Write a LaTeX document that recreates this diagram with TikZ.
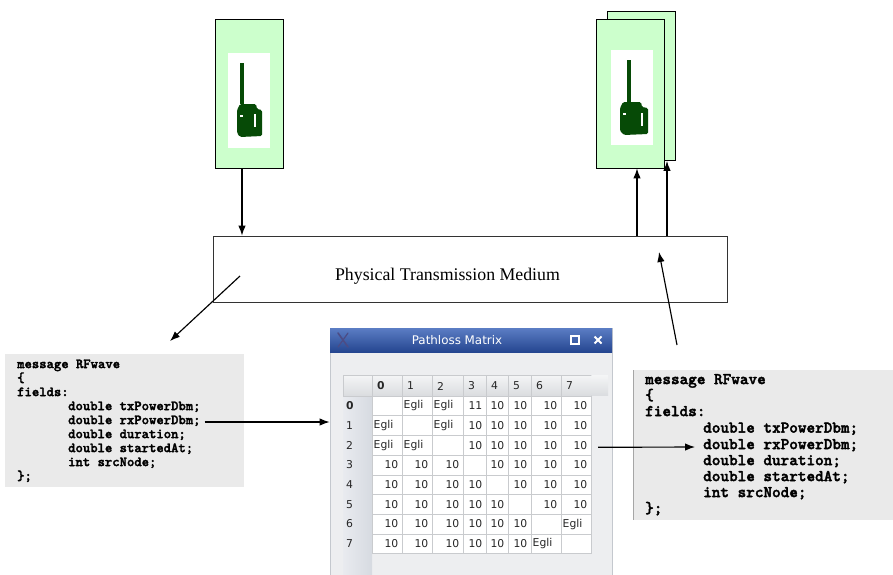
\documentclass[tikz,border=0pt]{standalone}
\usepackage{fontspec}
\setmainfont{Liberation Serif}
\newfontfamily\codefont{lmmonolt10-bold.otf}[FakeBold=2.2]
\newfontfamily\uifont{DejaVu Sans}
\usetikzlibrary{arrows.meta}

\definecolor{nodegreen}{HTML}{CCFFCC}
\definecolor{antgreen}{HTML}{064A06}
\definecolor{codegray}{HTML}{EAEAEA}
\definecolor{bartop}{HTML}{5B7DC4}
\definecolor{barbot}{HTML}{254690}
\definecolor{winbody}{HTML}{EDEEF0}
\definecolor{winedge}{HTML}{C4C8CE}
\definecolor{gridline}{HTML}{C9CBCE}
\definecolor{hdrtop}{HTML}{F4F5F6}
\definecolor{hdrbot}{HTML}{DADCDF}
\definecolor{rowhdrL}{HTML}{E9EBEF}
\definecolor{rowhdrR}{HTML}{D6DAE1}

\tikzset{
  arr/.style={draw=black, line width=1.15pt, -{Latex[length=10pt,width=7.5pt]}},
  radio/.style={draw=black, line width=0.8pt, fill=nodegreen, minimum width=68pt,
                minimum height=149pt, inner sep=0pt},
  panel/.style={fill=white, draw=none, inner sep=0pt},
  codeL/.style={font=\codefont\fontsize{14}{14}\selectfont, anchor=west,
                inner sep=0pt, text height=0.62em, text depth=0.2em},
  codeR/.style={font=\codefont\fontsize{16.4}{16}\selectfont, anchor=west,
                inner sep=0pt, text height=0.62em, text depth=0.2em},
  cellnum/.style={font=\uifont\fontsize{10.8}{12}\selectfont, anchor=east, inner sep=0pt,
                  text=black!85},
  celltxt/.style={font=\uifont\fontsize{10.8}{12}\selectfont, anchor=west, inner sep=0pt,
                  text=black!85},
  hdrtxt/.style={font=\uifont\fontsize{10.8}{12}\selectfont, anchor=west, inner sep=0pt,
                 text=black!85},
  bodycell/.style={fill=white, draw=gridline, line width=0.6pt},
  hdrcell/.style={top color=hdrtop, bottom color=hdrbot, draw=gridline, line width=0.6pt},
}

\begin{document}
\begin{tikzpicture}[x=1pt,y=-1pt]
\useasboundingbox[fill=white] (0,0) rectangle (893,574);

% ---------------- radio nodes ----------------
\node[radio] (txnode) at (249,93.5) {};
\node[panel, minimum width=42pt, minimum height=95pt] (txpanel) at (249,100.5) {};
\draw[antgreen, line width=3.2pt] (242,63) -- (242,104);
\fill[antgreen, rounded corners=1.5pt] (240,104) -- (256,104) -- (257,109) -- (262,110)
  -- (262,136) -- (240,137) -- (237,133) -- (237,110) -- cycle;
\fill[white] (254,114) rectangle (256,127);
\fill[white] (240,115) rectangle (243,117);

\node[radio] (rxback) at (641.5,86) {};
\node[radio] (rxnode) at (630.5,93.5) {};
\node[panel, minimum width=42pt, minimum height=95pt] (rxpanel) at (632,97.5) {};
\draw[antgreen, line width=3.2pt] (629,60) -- (629,102);
\fill[antgreen, rounded corners=1.5pt] (623,102) -- (641,102) -- (642,107) -- (648,108)
  -- (648,134) -- (624,135) -- (620,131) -- (620,108) -- cycle;
\fill[white] (641,113) rectangle (643,126);
\fill[white] (623,113) rectangle (626,115);

% ---------------- transmission medium ----------------
\node[draw=black!80, line width=0.8pt, minimum width=514pt, minimum height=66pt,
      inner sep=0pt] (medium) at (470,269) {};
\node[font=\fontsize{17.8}{20}\selectfont, inner sep=0pt] (mediumtext) at (447.5,276)
  {Physical Transmission Medium};

% ---------------- message definitions ----------------
\fill[codegray] (5,354) rectangle (244,487);
\node[codeL] (l0) at (17,366) {message RFwave};
\node[codeL] (l1) at (17,380) {\{};
\node[codeL] (l2) at (17,394) {fields:};
\node[codeL] (l3) at (68,408) {double txPowerDbm;};
\node[codeL] (lrx) at (68,422) {double rxPowerDbm;};
\node[codeL] (l5) at (68,436) {double duration;};
\node[codeL] (l6) at (68,450) {double startedAt;};
\node[codeL] (l7) at (68,464) {int srcNode;};
\node[codeL] (l8) at (17,478) {\};};

\fill[codegray] (634,370) rectangle (893,520);
\draw[black!35, line width=0.8pt] (633,370) -- (633,520);
\node[codeR] (r0) at (645,382) {message RFwave};
\node[codeR] (r1) at (645,398) {\{};
\node[codeR] (r2) at (645,414) {fields:};
\node[codeR] (r3) at (703,430.5) {double txPowerDbm;};
\node[codeR] (rrx) at (703,447) {double rxPowerDbm;};
\node[codeR] (r5) at (703,463) {double duration;};
\node[codeR] (r6) at (703,479) {double startedAt;};
\node[codeR] (r7) at (703,495) {int srcNode;};
\node[codeR] (r8) at (645,511) {\};};

% ---------------- pathloss matrix window ----------------
\node[draw=winedge, fill=winbody, line width=0.8pt, minimum width=282pt,
      minimum height=252pt, inner sep=0pt] (pathloss) at (471,454) {};
\node[top color=bartop, bottom color=barbot, minimum width=282pt, minimum height=24pt,
      inner sep=0pt] (titlebar) at (471,340) {};
\node[font=\uifont\fontsize{11.9}{14}\selectfont, text=white, inner sep=0pt]
  (titletext) at (457,340) {Pathloss Matrix};
\draw[black!45!blue!40!gray, line width=1.6pt, line cap=round] (338,333) -- (348,347);
\draw[black!45!blue!40!gray, line width=1.2pt, line cap=round] (348,333) -- (338,347);
\draw[white, line width=1.2pt] (571,336) rectangle (579,344);
\draw[white, line width=2pt] (594.5,336.5) -- (601.5,343.5);
\draw[white, line width=2pt] (594.5,343.5) -- (601.5,336.5);

% row-header strip
\shade[left color=rowhdrL, right color=rowhdrR] (343,396) rectangle (372,574);
% header row
\draw[hdrcell] (343,375) rectangle (372,396);
\foreach \xl/\xr [count=\c from 0] in {372/402,402/432,432/463,463/486,486/508,
                                        508/531,531/561,561/591} {
  \draw[hdrcell] (\xl,375) rectangle (\xr,396);
  \node[hdrtxt] (h\c) at (\xl+5,386) {\ifnum\c=0 \textbf{0}\else\c\fi};
}
\shade[top color=hdrtop, bottom color=hdrbot] (591.3,375.3) rectangle (608,395.7);

% body rows
\def\egli{E}
\def\none{-}
\foreach \row [count=\r from 0] in {
  {-,E,E,11,10,10,10,10},
  {E,-,E,10,10,10,10,10},
  {E,E,-,10,10,10,10,10},
  {10,10,10,-,10,10,10,10},
  {10,10,10,10,-,10,10,10},
  {10,10,10,10,10,-,10,10},
  {10,10,10,10,10,10,-,E},
  {10,10,10,10,10,10,E,-}} {
  \pgfmathsetmacro\yt{396+19.7*\r}
  \pgfmathsetmacro\yb{396+19.7*(\r+1)}
  \pgfmathsetmacro\ym{396+19.7*(\r+0.5)}
  \node[hdrtxt] (rh\r) at (346,\ym) {\ifnum\r=0 \textbf{0}\else\r\fi};
  \foreach \v [count=\c from 0] in \row {
    \pgfmathsetmacro\xl{{372,402,432,463,486,508,531,561}[\c]}
    \pgfmathsetmacro\xr{{402,432,463,486,508,531,561,591}[\c]}
    \draw[bodycell] (\xl,\yt) rectangle (\xr,\yb);
    \ifx\v\none
    \else\ifx\v\egli
      \node[celltxt] (c\r-\c) at (\xl+1.5,\ym) {Egli};
    \else
      \node[cellnum] (c\r-\c) at (\xr-3.5,\ym) {\v};
    \fi\fi
  }
}
\coordinate (rowtwo) at (598,447.3);

% ---------------- connectors ----------------
\draw[arr] ([xshift=-7pt]txnode.south) -- ([xshift=-7pt]txnode.south |- medium.north);
\draw[arr] ([xshift=6.5pt]rxnode.south |- medium.north) -- ([xshift=6.5pt]rxnode.south);
\draw[arr] ([xshift=25.5pt]rxback.south |- medium.north) -- ([xshift=25.5pt]rxback.south);

\coordinate (medout) at (240,276);
\coordinate (lcodein) at (170,341);
\draw[arr] (medout) -- (lcodein);

\coordinate (rcodeout) at (677,345);
\coordinate (medin) at (659,252);
\draw[arr] (rcodeout) -- (medin);

\draw[arr] ([xshift=4pt]lrx.east) -- (lrx.east -| pathloss.west);
\draw[arr] (rowtwo) -- ([xshift=-8pt]rrx.west);
\end{tikzpicture}
\end{document}
